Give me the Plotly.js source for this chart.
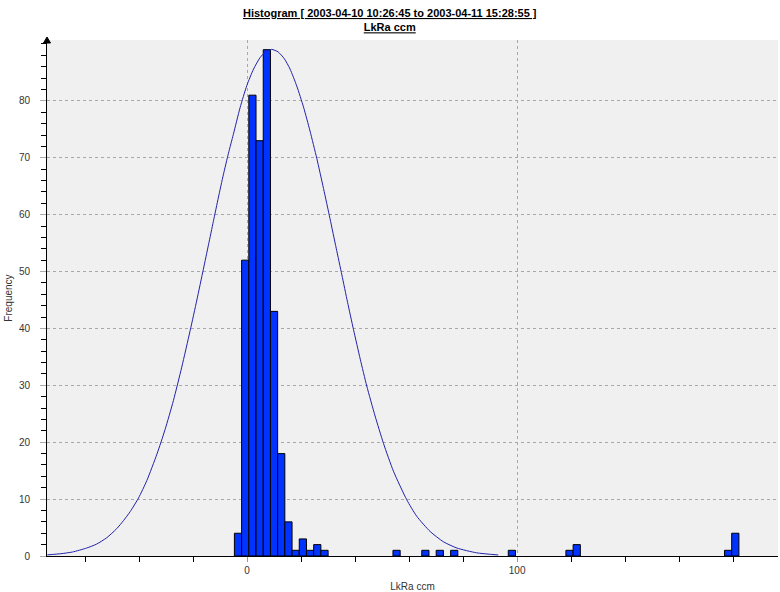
<!DOCTYPE html>
<html>
<head>
<meta charset="utf-8">
<script src="https://cdn.plot.ly/plotly-3.0.1.min.js"></script>
<style>html,body{margin:0;padding:0;background:#fff;}#chart{width:780px;height:592px;}</style>
</head>
<body>
<div id="chart"></div>
<script>
// Histogram bins (centers) and frequencies
const binCenters = [-3.37, -0.70, 1.97, 4.64, 7.31, 9.98, 12.64, 15.31, 17.98, 20.65, 23.32, 25.99, 28.66,
                    55.35, 66.02, 71.36, 76.70, 98.05, 119.40, 122.07, 178.12, 180.79];
const frequencies = [4, 52, 81, 73, 89, 43, 18, 6, 1, 3, 1, 2, 1,
                     1, 1, 1, 1, 1, 1, 2, 1, 4];
const binWidth = 2.669;

// Fitted normal curve
const curveX = [-74, -69, -64.7, -59.4, -55.7, -52, -48.3, -45.8, -43.3, -40.2, -37.1, -33.4, -30.4, -27.3,
                -24.2, -21.1, -18.6, -16.2, -14.3, -12.5, -10.6, -8.8, -6.9, -5.1, -2.6, -0.1, 2.4, 4.8, 7,
                9.1, 11.5, 13.8, 15.9, 18.4, 20.9, 23.3, 25.8, 28.3, 30.7, 33, 35.1, 37.2, 39.4, 41.9, 44.3,
                47.4, 50.5, 54.2, 59.1, 62.8, 67.8, 72.7, 77.7, 85, 93];
const curveY = [0.2, 0.4, 0.7, 1.4, 2.1, 3.2, 4.8, 6.2, 7.8, 10.2, 13.3, 17.9, 22.2, 27.3,
                33.2, 39.6, 45.0, 50.4, 54.7, 58.8, 63.1, 67.0, 70.8, 74.1, 78.8, 82.7, 85.6, 87.6, 88.7,
                89.05, 88.6, 87.4, 85.6, 82.6, 78.9, 74.7, 69.9, 64.6, 59.3, 54.1, 49.4, 44.6, 39.8, 34.6, 29.9,
                24.6, 19.8, 14.9, 9.9, 7.0, 4.3, 2.5, 1.4, 0.56, 0.18];

const titleLine1 = 'Histogram [ 2003-04-10 10:26:45 to 2003-04-11 15:28:55 ]';
const titleLine2 = 'LkRa ccm';
const xTitle = 'LkRa ccm';
const yTitle = 'Frequency';
const yTickVals = [0, 10, 20, 30, 40, 50, 60, 70, 80];
const xTickVals = [0, 100];

const font = 'Liberation Sans, Arial, sans-serif';

const traces = [
  {
    type: 'bar',
    x: binCenters,
    y: frequencies,
    width: binWidth,
    marker: {color: '#0033ff', line: {color: '#000000', width: 1}},
    hoverinfo: 'skip',
    showlegend: false
  },
  {
    type: 'scatter',
    mode: 'lines',
    x: curveX,
    y: curveY,
    line: {color: '#2222aa', width: 1, shape: 'spline', smoothing: 0.6},
    hoverinfo: 'skip',
    showlegend: false
  }
];

const layout = {
  width: 780,
  height: 592,
  margin: {l: 47, r: 2, t: 40, b: 36},
  paper_bgcolor: '#ffffff',
  plot_bgcolor: '#f0f0f0',
  font: {family: font, size: 10, color: '#333333'},
  bargap: 0,
  annotations: [
    {
      text: '<b><u>' + titleLine1 + '</u></b><br><b><u>' + titleLine2 + '</u></b>',
      font: {family: font, size: 11, color: '#000000'},
      xref: 'paper', x: (390 - 47) / 731, xanchor: 'center',
      yref: 'paper', y: 1 + 35 / 516, yanchor: 'top',
      showarrow: false, align: 'center'
    }
  ],
  xaxis: {
    range: [-74.1, 196.6],
    tickmode: 'array', tickvals: xTickVals,
    ticks: 'outside', ticklen: 5, tickcolor: '#999999',
    showgrid: true, gridcolor: '#a8a8a8', griddash: '3px,3px', gridwidth: 1,
    minor: {tickmode: 'linear', tick0: 0, dtick: 20, ticks: 'outside', ticklen: 5, tickcolor: '#000000', showgrid: false},
    zeroline: false,
    showline: true, linecolor: '#000000', linewidth: 1,
    tickfont: {family: font, size: 10, color: '#333333'},
    title: {text: xTitle, font: {family: font, size: 10, color: '#333333'}, standoff: 10}
  },
  yaxis: {
    range: [0, 90.7],
    tickmode: 'array', tickvals: yTickVals,
    ticks: 'outside', ticklen: 6, tickcolor: '#aaaaaa',
    ticklabelstandoff: 8,
    showgrid: true, gridcolor: '#a8a8a8', griddash: '3px,3px', gridwidth: 1,
    minor: {tickmode: 'linear', tick0: 0, dtick: 2, ticks: 'outside', ticklen: 5, tickcolor: '#000000', showgrid: false},
    zeroline: false,
    showline: true, linecolor: '#000000', linewidth: 1,
    tickfont: {family: font, size: 10, color: '#333333'},
    title: {text: yTitle, font: {family: font, size: 10, color: '#333333'}, standoff: 4}
  },
  shapes: [
    {
      type: 'path', xref: 'paper', yref: 'paper',
      xsizemode: 'pixel', ysizemode: 'pixel', xanchor: 0, yanchor: 1,
      path: 'M -3.5,-3 L 3.5,-3 L 0,3 Z',
      fillcolor: '#000000', line: {color: '#000000', width: 1}
    }
  ]
};

Plotly.newPlot('chart', traces, layout, {staticPlot: true, displayModeBar: false});
</script>
</body>
</html>
